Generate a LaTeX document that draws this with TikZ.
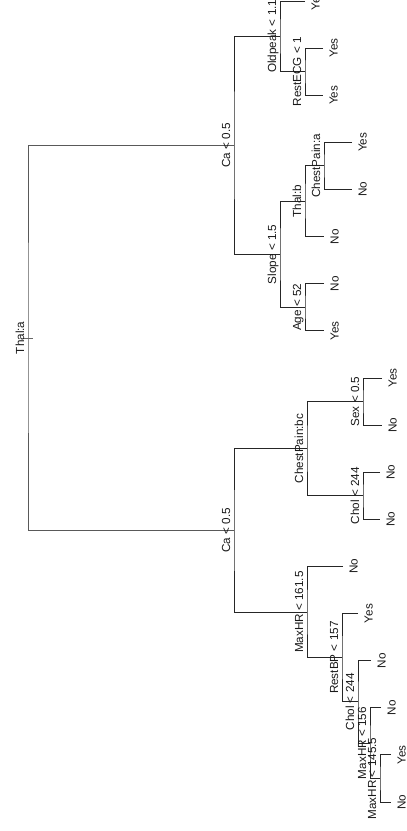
\documentclass[tikz,border=0pt]{standalone}
\usepackage{fontspec}
\setmainfont{Liberation Sans}
\begin{document}
\begin{tikzpicture}[x=1pt,y=-1pt,
  edge/.style={draw=black!85, line width=1pt},
  rootedge/.style={draw=black!65, line width=1pt},
  lab/.style={rotate=90, anchor=base, inner sep=0pt, font=\fontsize{11.7}{13}\selectfont, text=black!90},
]
\useasboundingbox (0,0) rectangle (407,831);
% leaves
\coordinate (l0) at (305,1.0);
\coordinate (l1) at (323,48.1);
\coordinate (l2) at (323,95.2);
\coordinate (l3) at (352,142.4);
\coordinate (l4) at (352,189.5);
\coordinate (l5) at (324,236.6);
\coordinate (l6) at (324,283.7);
\coordinate (l7) at (324,330.8);
\coordinate (l8) at (382,378.0);
\coordinate (l9) at (382,425.1);
\coordinate (l10) at (380,472.2);
\coordinate (l11) at (380,519.3);
\coordinate (l12) at (343,566.4);
\coordinate (l13) at (358,613.6);
\coordinate (l14) at (371,660.7);
\coordinate (l15) at (381,707.8);
\coordinate (l16) at (391,754.9);
\coordinate (l17) at (391,802.0);
% internal nodes
\coordinate (restecg) at (305,71.7);
\coordinate (oldpeak) at (280,36.3);
\coordinate (cpa) at (324,165.9);
\coordinate (thalb) at (305,201.3);
\coordinate (age) at (305,307.3);
\coordinate (slope) at (280,254.3);
\coordinate (caup) at (234,145.3);
\coordinate (sex) at (363,401.5);
\coordinate (cholA) at (363,495.8);
\coordinate (cpbc) at (307,448.6);
\coordinate (mhrD) at (380,778.5);
\coordinate (mhrC) at (370,743.1);
\coordinate (cholB) at (358,701.9);
\coordinate (restbp) at (342,657.7);
\coordinate (mhrA) at (307,612.1);
\coordinate (calow) at (234,530.4);
\coordinate (root) at (28,337.8);
% edges
\draw[edge] (l1) -| (restecg) |- (l2);
\draw[edge] (l0) -| (oldpeak) |- (restecg);
\draw[edge] (l3) -| (cpa) |- (l4);
\draw[edge] (cpa) -| (thalb) |- (l5);
\draw[edge] (l6) -| (age) |- (l7);
\draw[edge] (thalb) -| (slope) |- (age);
\draw[edge] (oldpeak) -| (caup) |- (slope);
\draw[edge] (l8) -| (sex) |- (l9);
\draw[edge] (l10) -| (cholA) |- (l11);
\draw[edge] (sex) -| (cpbc) |- (cholA);
\draw[edge] (l16) -| (mhrD) |- (l17);
\draw[edge] (l15) -| (mhrC) |- (mhrD);
\draw[edge] (l14) -| (cholB) |- (mhrC);
\draw[edge] (l13) -| (restbp) |- (cholB);
\draw[edge] (l12) -| (mhrA) |- (restbp);
\draw[edge] (cpbc) -| (calow) |- (mhrA);
\draw[rootedge] (caup) -| (root) |- (calow);
\draw[draw=black!60, line width=0.5pt] ([xshift=-5pt]root) -- ([xshift=5pt]root);
% split labels
\node[lab] (troot) at ([xshift=-4pt]root) {Thal:a};
\node[lab] (tcaup) at ([xshift=-4pt]caup) {Ca < 0.5};
\node[lab] (tcalow) at ([xshift=-4pt]calow) {Ca < 0.5};
\node[lab] (toldpeak) at ([xshift=-4pt]oldpeak) {Oldpeak < 1.1};
\node[lab] (trestecg) at ([xshift=-4pt]restecg) {RestECG < 1};
\node[lab] (tslope) at ([xshift=-4pt]slope) {Slope < 1.5};
\node[lab] (tthalb) at ([xshift=-4pt]thalb) {Thal:b};
\node[lab] (tcpa) at ([xshift=-4pt]cpa) {ChestPain:a};
\node[lab] (tage) at ([xshift=-4pt]age) {Age < 52};
\node[lab] (tcpbc) at ([xshift=-4pt]cpbc) {ChestPain:bc};
\node[lab] (tsex) at ([xshift=-4pt]sex) {Sex < 0.5};
\node[lab] (tcholA) at ([xshift=-4pt]cholA) {Chol < 244};
\node[lab] (tmhrA) at ([xshift=-4pt]mhrA) {MaxHR < 161.5};
\node[lab] (trestbp) at ([xshift=-4pt]restbp) {RestBP < 157};
\node[lab] (tcholB) at ([xshift=-4pt]cholB) {Chol < 244};
\node[lab] (tmhrC) at ([xshift=-4pt]mhrC) {MaxHR < 156};
\node[lab] (tmhrD) at ([xshift=-4pt]mhrD) {MaxHR < 145.5};
% leaf labels
\node[lab] (y0) at ([xshift=14.5pt]l0) {Yes};
\node[lab] (y1) at ([xshift=14.5pt]l1) {Yes};
\node[lab] (y2) at ([xshift=14.5pt]l2) {Yes};
\node[lab] (y3) at ([xshift=14.5pt]l3) {Yes};
\node[lab] (y4) at ([xshift=14.5pt]l4) {No};
\node[lab] (y5) at ([xshift=14.5pt]l5) {No};
\node[lab] (y6) at ([xshift=14.5pt]l6) {No};
\node[lab] (y7) at ([xshift=14.5pt]l7) {Yes};
\node[lab] (y8) at ([xshift=14.5pt]l8) {Yes};
\node[lab] (y9) at ([xshift=14.5pt]l9) {No};
\node[lab] (y10) at ([xshift=14.5pt]l10) {No};
\node[lab] (y11) at ([xshift=14.5pt]l11) {No};
\node[lab] (y12) at ([xshift=14.5pt]l12) {No};
\node[lab] (y13) at ([xshift=14.5pt]l13) {Yes};
\node[lab] (y14) at ([xshift=14.5pt]l14) {No};
\node[lab] (y15) at ([xshift=14.5pt]l15) {No};
\node[lab] (y16) at ([xshift=14.5pt]l16) {Yes};
\node[lab] (y17) at ([xshift=14.5pt]l17) {No};
\end{tikzpicture}
\end{document}
